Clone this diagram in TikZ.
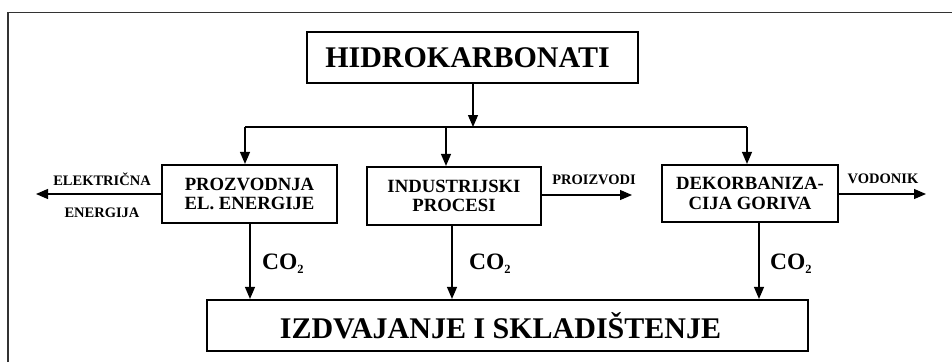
\documentclass[tikz,border=0pt]{standalone}
\usepackage{fontspec}
\setmainfont{Liberation Serif}
\usetikzlibrary{arrows.meta}
\begin{document}
\begin{tikzpicture}[x=1pt,y=-1pt,
  boxstyle/.style={draw=black,line width=2.2pt,inner sep=0pt,align=center,font=\bfseries},
  conn/.style={draw=black,line width=1.2pt},
  arr/.style={conn,-{Triangle[length=12pt,width=10pt]}},
  smalllab/.style={inner sep=0pt,anchor=base,font=\bfseries\fontsize{14.5}{14.5}\selectfont},
  colab/.style={inner sep=0pt,anchor=base west,font=\bfseries\fontsize{23.5}{23.5}\selectfont}]
\useasboundingbox (0,0) rectangle (952,362);
% frame
\draw[line width=1.5pt,color=black!80] (8,362) -- (8,12.5) -- (952,12.5);
% boxes
\node[boxstyle,minimum width=331pt,minimum height=51pt,font=\bfseries\fontsize{30}{30}\selectfont] (hidro) at (472.5,57.5) {HIDROKARBONATI\hspace*{10pt}};
\node[boxstyle,minimum width=175pt,minimum height=58pt,font=\bfseries\fontsize{18.7}{19.4}\selectfont] (proz) at (249.5,194) {PROZVODNJA\\EL. ENERGIJE};
\node[boxstyle,minimum width=174pt,minimum height=58pt,font=\bfseries\fontsize{18.7}{19.4}\selectfont] (ind) at (454,196) {INDUSTRIJSKI\\PROCESI};
\node[boxstyle,minimum width=176pt,minimum height=57pt,font=\bfseries\fontsize{18.7}{19.4}\selectfont] (dek) at (750,193.5) {DEKORBANIZA-\\CIJA GORIVA};
\node[boxstyle,minimum width=601pt,minimum height=51pt,font=\bfseries\fontsize{30}{30}\selectfont] (store) at (507.5,325.5) {IZDVAJANJE I SKLADIŠTENJE\hspace*{14pt}};
% distribution
\coordinate (j) at (473,127);
\coordinate (jl) at (245,127);
\coordinate (jm) at (446,127);
\coordinate (jr) at (747,127);
\draw[arr] (hidro.south -| j) -- (j);
\draw[conn] (jl) -- (jr);
\draw[arr] (jl) -- (jl |- proz.north);
\draw[arr] (jm) -- (jm |- ind.north);
\draw[arr] (jr) -- (jr |- dek.north);
% CO2 flows
\draw[arr] ([xshift=0.5pt]proz.south) -- ([xshift=0.5pt]proz.south |- store.north);
\draw[arr] ([xshift=-2pt]ind.south) -- ([xshift=-2pt]ind.south |- store.north);
\draw[arr] ([xshift=9pt]dek.south) -- ([xshift=9pt]dek.south |- store.north);
\node[colab] (co1) at (262,269) {CO\raisebox{-4pt}{\fontsize{12.5}{12.5}\selectfont 2}};
\node[colab] (co2) at (469,269) {CO\raisebox{-4pt}{\fontsize{12.5}{12.5}\selectfont 2}};
\node[colab] (co3) at (770,269) {CO\raisebox{-4pt}{\fontsize{12.5}{12.5}\selectfont 2}};
% side outputs
\coordinate (eout) at (36,194);
\coordinate (pout) at (632,195);
\coordinate (vout) at (926,194);
\draw[arr] (proz.west |- eout) -- (eout);
\draw[arr] (ind.east |- pout) -- (pout);
\draw[arr] (dek.east |- vout) -- (vout);
\node[smalllab] (el1) at (102,185) {ELEKTRIČNA};
\node[smalllab] (el2) at (102,217) {ENERGIJA};
\node[smalllab] (pr) at (594,184) {PROIZVODI};
\node[smalllab] (vo) at (883,183) {VODONIK};
\end{tikzpicture}
\end{document}
